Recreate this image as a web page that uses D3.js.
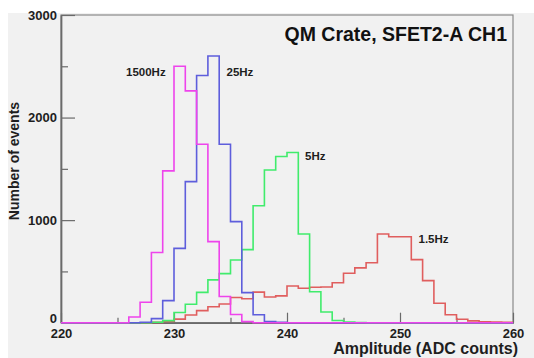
<!DOCTYPE html>
<html>
<head>
<meta charset="utf-8">
<script src="https://cdn.jsdelivr.net/npm/d3@7"></script>
<style>
  body { margin: 0; background: #fff; }
  svg { display: block; font-family: "Liberation Sans", Arial, sans-serif; }
</style>
</head>
<body>
<div id="chart"></div>
<script>
// histogram contents, one entry per 1-count bin starting at the given bin
const binLow = 220, binHigh = 260;
const rate1p5Start = 228;
const rate1p5 = [3, 12, 35, 75, 118, 156, 182, 246, 233, 298, 250, 262, 358, 336, 345, 348,
                 390, 482, 535, 585, 865, 838, 838, 615, 410, 189, 78, 33, 18, 8, 6, 5];
const rate5Start = 228;
const rate5 = [5, 20, 100, 180, 296, 418, 478, 611, 712, 1140, 1489, 1620, 1660, 865, 302, 104, 22, 6, 2];
const rate25Start = 227;
const rate25 = [5, 40, 215, 725, 1375, 2410, 2600, 1740, 985, 293, 78, 12, 3];
const rate1500Start = 226;
const rate1500 = [55, 200, 685, 1480, 2500, 2260, 1740, 790, 255, 80, 10];

const seriesNames = ["1.5Hz", "5Hz", "25Hz", "1500Hz"];
const seriesColors = ["#e05e5e", "#40ec6c", "#5e5edc", "#ee44ec"];

const yMajor = [0, 1000, 2000, 3000];
const yMinor = [500, 1500, 2500];
const xMajor = [220, 230, 240, 250, 260];
const xMinor = [225, 235, 245, 255];

const W = 534, H = 358;
const dim = { left: 61, right: 513, top: 15, bottom: 322.7 };

const svg = d3.select("#chart").append("svg")
  .attr("width", W)
  .attr("height", H);

// screenshot background
svg.append("rect").attr("x", 8).attr("y", 13).attr("width", W - 8).attr("height", H - 13)
  .attr("fill", "#f1f1f1");

const x = d3.scaleLinear().domain([binLow, binHigh]).range([dim.left, dim.right]);
const y = d3.scaleLinear().domain([0, 3000]).range([dim.bottom, dim.top]);

// turn a (start, counts) pair into a full row of bins
function fullBins(start, counts) {
  const out = [];
  for (let b = binLow; b < binHigh; b++) {
    const k = b - start;
    out.push({ bin: b, v: (k >= 0 && k < counts.length) ? counts[k] : 0 });
  }
  out.push({ bin: binHigh, v: out[out.length - 1].v });
  return out;
}

const series = [
  fullBins(rate1p5Start, rate1p5),
  fullBins(rate5Start, rate5),
  fullBins(rate25Start, rate25),
  fullBins(rate1500Start, rate1500)
];

// frame
svg.append("rect")
  .attr("x", dim.left).attr("y", dim.top)
  .attr("width", dim.right - dim.left).attr("height", dim.bottom - dim.top)
  .attr("fill", "none").attr("stroke", "#8a8a8a").attr("stroke-width", 1.2);

// axes
const yAxis = d3.axisLeft(y).tickValues(yMajor).tickFormat(d3.format("d"))
  .tickSizeInner(-14).tickSizeOuter(0).tickPadding(4);
const yAxisMinor = d3.axisLeft(y).tickValues(yMinor).tickFormat("")
  .tickSizeInner(-7).tickSizeOuter(0);
const xAxis = d3.axisBottom(x).tickValues(xMajor).tickFormat(d3.format("d"))
  .tickSizeInner(-10).tickSizeOuter(0).tickPadding(6);
const xAxisMinor = d3.axisBottom(x).tickValues(xMinor).tickFormat("")
  .tickSizeInner(-5).tickSizeOuter(0);

const gy = svg.append("g").attr("transform", `translate(${dim.left},0)`).call(yAxis);
svg.append("g").attr("transform", `translate(${dim.left},0)`).call(yAxisMinor);
const gx = svg.append("g").attr("transform", `translate(0,${dim.bottom})`).call(xAxis);
svg.append("g").attr("transform", `translate(0,${dim.bottom})`).call(xAxisMinor);

svg.selectAll(".domain").attr("stroke", "#6a6a6a").attr("stroke-width", 1.4);
svg.selectAll(".tick line").attr("stroke", "#6a6a6a").attr("stroke-width", 1.2);
svg.selectAll(".tick text")
  .attr("font-size", 13).attr("font-weight", "bold").attr("fill", "#1e1e1e")
  .attr("font-family", "Liberation Sans, Arial, sans-serif");
// the zero label sits just above the x labels
gy.selectAll(".tick text").filter(d => d === 0).attr("dy", "-0.05em");

// histograms
const line = d3.line()
  .x(d => x(d.bin))
  .y(d => y(d.v))
  .curve(d3.curveStepAfter);

svg.append("g").selectAll("path")
  .data(series)
  .enter()
  .append("path")
  .attr("d", line)
  .attr("fill", "none")
  .attr("stroke", (d, i) => seriesColors[i])
  .attr("stroke-width", 1.6);

// labels next to each peak
const labelPos = [
  { x: 418.5, y: 242.5 },
  { x: 305, y: 159.5 },
  { x: 226.5, y: 76 },
  { x: 126, y: 76 }
];
svg.append("g").selectAll("text")
  .data(seriesNames)
  .enter()
  .append("text")
  .attr("x", (d, i) => labelPos[i].x)
  .attr("y", (d, i) => labelPos[i].y)
  .attr("font-size", 11.5).attr("font-weight", "bold").attr("fill", "#1e1e1e")
  .text(d => d);

// title and axis titles
svg.append("text")
  .attr("x", 507).attr("y", 41)
  .attr("text-anchor", "end")
  .attr("font-size", 19.5).attr("font-weight", "bold").attr("fill", "#111")
  .text("QM Crate, SFET2-A CH1");

svg.append("text")
  .attr("x", 518).attr("y", 354)
  .attr("text-anchor", "end")
  .attr("font-size", 16).attr("font-weight", "bold").attr("fill", "#1e1e1e")
  .text("Amplitude (ADC counts)");

svg.append("text")
  .attr("transform", "translate(19,161) rotate(-90)")
  .attr("text-anchor", "middle")
  .attr("font-size", 14).attr("font-weight", "bold").attr("fill", "#1e1e1e")
  .text("Number of events");
</script>
</body>
</html>
